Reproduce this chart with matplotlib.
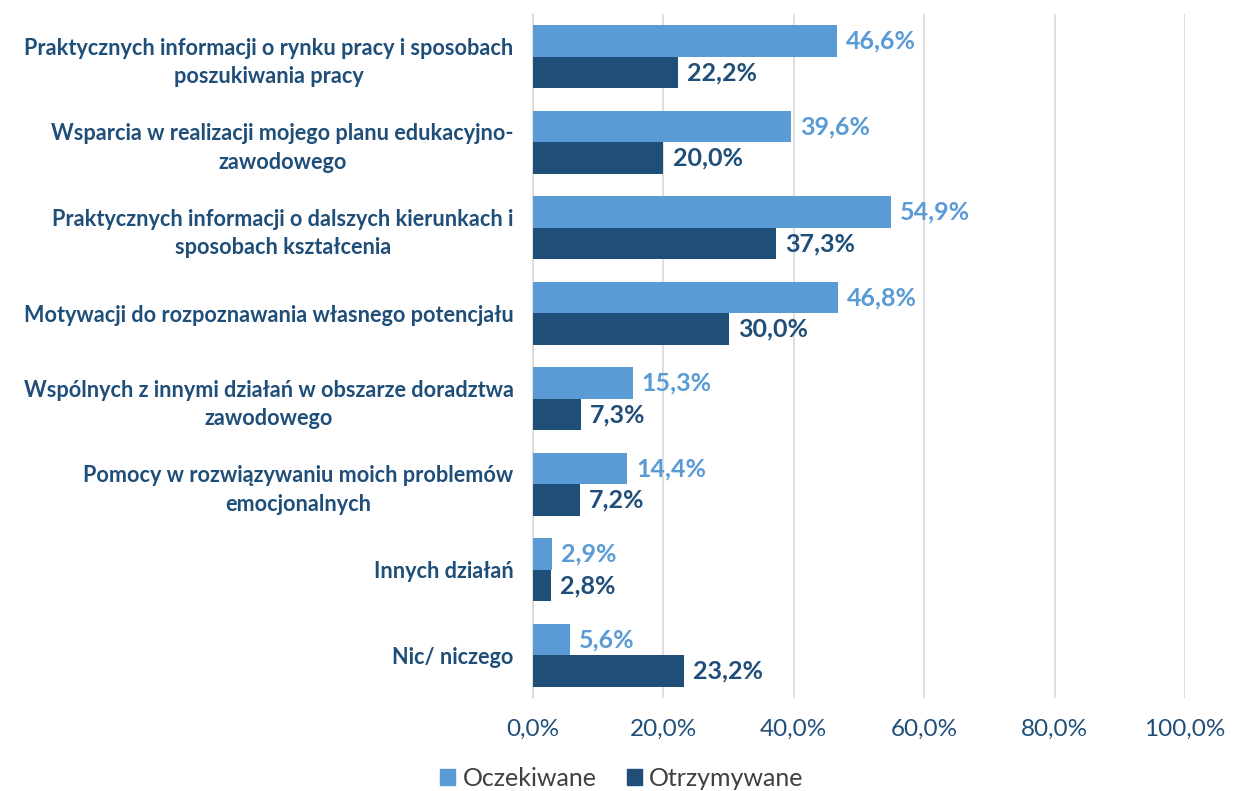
import matplotlib
matplotlib.use("Agg")
import matplotlib.pyplot as plt
import numpy as np
from matplotlib.patches import Patch

categories = [
    "Praktycznych informacji o rynku pracy i sposobach\nposzukiwania pracy",
    "Wsparcia w realizacji mojego planu edukacyjno-\nzawodowego",
    "Praktycznych informacji o dalszych kierunkach i\nsposobach kształcenia",
    "Motywacji do rozpoznawania własnego potencjału",
    "Wspólnych z innymi działań w obszarze doradztwa\nzawodowego",
    "Pomocy w rozwiązywaniu moich problemów\nemocjonalnych",
    "Innych działań",
    "Nic/ niczego",
]
oczekiwane = [46.6, 39.6, 54.9, 46.8, 15.3, 14.4, 2.9, 5.6]
otrzymywane = [22.2, 20.0, 37.3, 30.0, 7.3, 7.2, 2.8, 23.2]
series_names = ["Oczekiwane", "Otrzymywane"]
xticks = [0, 20, 40, 60, 80, 100]

c_light = "#5B9BD5"
c_dark = "#1F4E79"
text_col = "#1F4E79"

plt.rcParams['font.family'] = ['Lato', 'DejaVu Sans']

fig = plt.figure(figsize=(12.35, 7.91), dpi=100)
ax = fig.add_axes([533/1235, 1-698/791, (1185-533)/1235, (698-14)/791])

n = len(categories)
y = np.arange(n)
h = 0.37
ax.barh(y - h/2, oczekiwane, height=h, color=c_light, zorder=3)
ax.barh(y + h/2, otrzymywane, height=h, color=c_dark, zorder=3)

for i in range(n):
    ax.text(oczekiwane[i] + 1.4, y[i] - h/2, f"{oczekiwane[i]:.1f}%".replace('.', ','),
            va='center', ha='left', color=c_light, fontsize=18, fontweight='bold')
    ax.text(otrzymywane[i] + 1.4, y[i] + h/2, f"{otrzymywane[i]:.1f}%".replace('.', ','),
            va='center', ha='left', color=c_dark, fontsize=18, fontweight='bold')

ax.set_ylim(n - 0.5, -0.5)
ax.set_xlim(0, 100)
ax.set_yticks(y)
ax.set_yticklabels(categories, fontsize=15.6, fontweight='bold', color=text_col,
                   multialignment='center', linespacing=1.45)
ax.set_xticks(xticks)
ax.set_xticklabels([f"{v:.1f}%".replace('.', ',') for v in xticks], fontsize=17.5, color=text_col)
ax.tick_params(axis='y', length=0, pad=14)
ax.tick_params(axis='x', length=0, pad=15)
ax.grid(axis='x', color='#D9D9D9', linewidth=1.2, zorder=0)
for s in ['top', 'right', 'bottom']:
    ax.spines[s].set_visible(False)
ax.spines['left'].set_color('#D9D9D9')
ax.spines['left'].set_linewidth(1.2)

handles = [Patch(color=c_light), Patch(color=c_dark)]
fig.legend(handles, series_names, loc='center', bbox_to_anchor=(622/1235, 1-778/791),
           ncol=2, frameon=False, fontsize=18, handlelength=0.6, handleheight=0.6,
           handletextpad=0.3, columnspacing=1.2, labelcolor='#404040')

fig.savefig("out.png", dpi=100)
